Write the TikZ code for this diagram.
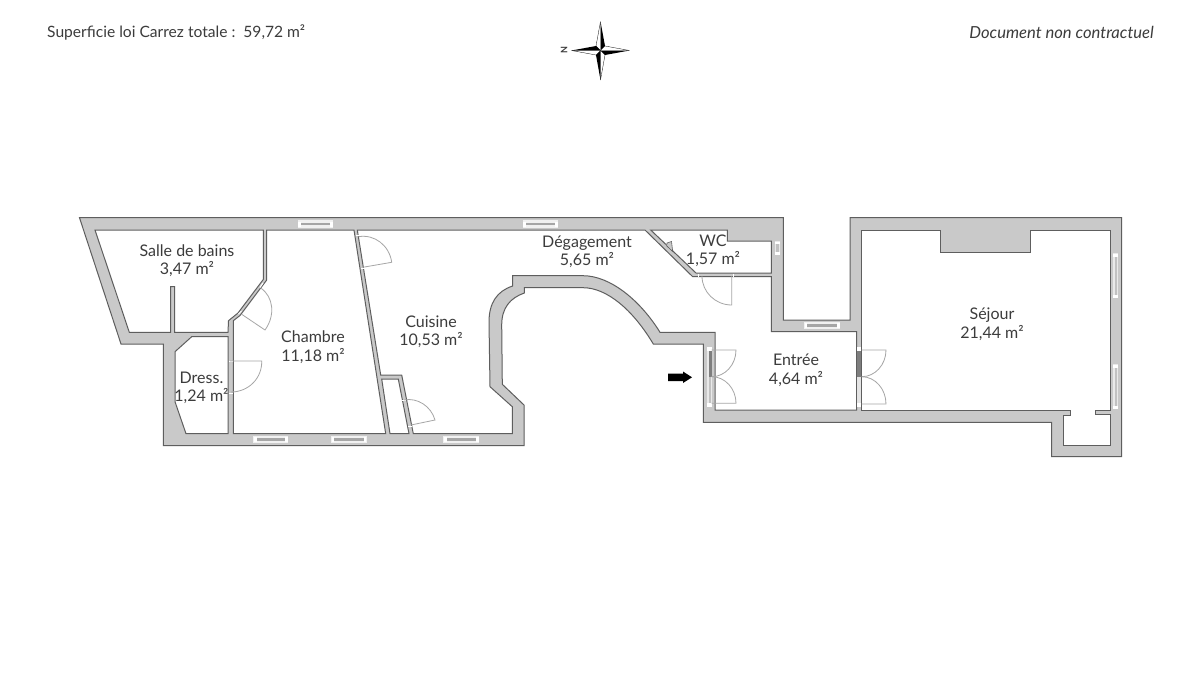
\documentclass[tikz,border=0pt]{standalone}
\usepackage{fontspec}
\setmainfont{Lato}
\definecolor{wallfill}{HTML}{C9C9C9}
\definecolor{wallline}{HTML}{5E5E5E}
\definecolor{doorline}{HTML}{A6A6A6}
\definecolor{inktext}{HTML}{3C3C3C}
\newcommand{\doorleaf}[6]{%
  \pgfmathsetmacro{\cax}{#3+0.5523*(#5-#1)}%
  \pgfmathsetmacro{\cay}{#4+0.5523*(#6-#2)}%
  \pgfmathsetmacro{\cbx}{#5+0.5523*(#3-#1)}%
  \pgfmathsetmacro{\cby}{#6+0.5523*(#4-#2)}%
  \draw[doorstyle] (#1,#2) -- (#3,#4) .. controls (\cax,\cay) and (\cbx,\cby) .. (#5,#6);}
\newcommand{\winh}[3]{% x1 x2 ycentre
  \fill[white!75!wallfill] (#1,#3-3.8) rectangle (#2,#3+3.8);
  \fill[doorline] (#1+2,#3-1.3) rectangle (#2-2,#3+1.3);
  \fill[tick] (#1+0.5,#3-2.5) rectangle (#1+3.2,#3+2.5);
  \fill[tick] (#2-3.2,#3-2.5) rectangle (#2-0.5,#3+2.5);}
\newcommand{\winv}[3]{% y1 y2 xcentre
  \fill[white!60!wallfill] (#3-2.6,#1) rectangle (#3+2.6,#2);
  \fill[doorline!70!white] (#3-1.2,#1+2) rectangle (#3+1.2,#2-2);
  \fill[tick] (#3-2.5,#1+0.5) rectangle (#3+2.5,#1+3.2);
  \fill[tick] (#3-2.5,#2-3.2) rectangle (#3+2.5,#2-0.5);}
\tikzset{
  x=1pt,y=-1pt,
  wallshape/.style={fill=wallfill,draw=wallline,line width=1pt,line join=miter},
  roomshape/.style={fill=white,draw=wallline,line width=1pt,line join=miter},
  doorstyle/.style={draw=doorline,line width=0.8pt},
  roomlabel/.style={font=\fontsize{16}{18.5}\selectfont,align=center,text=inktext,inner sep=0pt},
  headtext/.style={font=\fontsize{15.6}{17}\selectfont,text=inktext,inner sep=0pt},
  tick/.style={fill=white},
}
\begin{document}
\begin{tikzpicture}
\useasboundingbox (0,0) rectangle (1200,675);
\fill[white] (0,0) rectangle (1200,675);

% header
\node[headtext,anchor=base west] (total) at (47,37) {Superficie loi Carrez totale :\ \ 59,72 m²};
\node[headtext,anchor=base east,font=\fontsize{16.6}{18}\selectfont] (contract) at (1154,38) {\itshape Document non contractuel};

% compass
\fill[black] (600.5,21.5) -- (605,46) -- (600.5,50.5) -- cycle;
\draw[black,line width=0.3pt,fill=white] (600.5,21.5) -- (596,46) -- (600.5,50.5) -- cycle;
\fill[black] (571.5,50.5) -- (596,46) -- (600.5,50.5) -- cycle;
\draw[black,line width=0.3pt,fill=white] (571.5,50.5) -- (596,55) -- (600.5,50.5) -- cycle;
\fill[black] (600.5,80) -- (596,55) -- (600.5,50.5) -- cycle;
\draw[black,line width=0.3pt,fill=white] (600.5,80) -- (605,55) -- (600.5,50.5) -- cycle;
\fill[black] (629.5,50.5) -- (605,55) -- (600.5,50.5) -- cycle;
\draw[black,line width=0.3pt,fill=white] (629.5,50.5) -- (605,46) -- (600.5,50.5) -- cycle;
\node[font=\fontsize{9}{10}\selectfont\bfseries,text=inktext,rotate=90,inner sep=0pt] (north) at (564,50.5) {N};

% walls (single outline)
\path[wallshape] (79.5,217.7) -- (783.3,217.7) -- (783.3,320) -- (850,320) -- (850,217.7)
  -- (1121.7,217.7) -- (1121.7,456.7) -- (1051.7,456.7) -- (1051.7,422.3) -- (703.3,422.3)
  -- (703.3,344) -- (653.3,344) .. controls (633,310) and (607,287.7) .. (583,287.7)
  -- (524.3,287.7) -- (524.3,293) .. controls (510,298) and (501.7,308) .. (501.7,325)
  -- (502.3,384.3) -- (524,405) -- (524,445.7) -- (163.3,445.7) -- (163.3,344) -- (121,344) -- cycle;

% salle de bains
\path[roomshape] (95,230) -- (263.3,230) -- (263.3,279.5) -- (238,313) -- (228.5,320.7)
  -- (228,332.3) -- (174.6,332.3) -- (174.6,286.7) -- (170.7,286.7) -- (170.7,332.3) -- (129.3,332.3) -- cycle;
% dressing
\path[roomshape] (191.7,336.7) -- (228,336.7) -- (228,433.7) -- (186,433.7) -- (175,401.7) -- (175,351.7) -- cycle;
% chambre
\path[roomshape] (266.7,230) -- (354,230) -- (385.7,433.7) -- (233.3,433.7) -- (233.3,320.7)
  -- (240,315.5) -- (266.7,280) -- cycle;
% placard
\path[roomshape] (381.7,379) -- (398.3,379) -- (409,433.7) -- (390,433.7) -- cycle;
% cuisine + degagement + entree
\path[roomshape] (357.3,230) -- (645,230) -- (692.7,276.7) -- (771.3,276.7) -- (771.3,331.7)
  -- (856.7,331.7) -- (856.7,410) -- (715,410) -- (715,332.3) -- (660,332.3)
  .. controls (640,300) and (610,275.7) .. (583,275.7) -- (512.7,275.7) -- (512.7,286)
  .. controls (497,291) and (489,303) .. (489,322) -- (490,386.7) -- (512.3,406.7) -- (512.3,433.7)
  -- (413.3,433.7) -- (401.7,375) -- (380.7,375) -- cycle;
% WC
\path[roomshape] (650.7,230) -- (727.3,230) -- (727.3,241) -- (771.3,241) -- (771.3,273)
  -- (696,273) -- cycle;
\path[wallshape,line width=0.6pt] (666.8,246) -- (667,243) -- (671.5,241.5) -- (672.7,251.5) -- cycle;
% sejour
\path[roomshape] (861.7,230) -- (940.7,230) -- (940.7,252.7) -- (1030,252.7) -- (1030,230) -- (1110,230)
  -- (1110,410.7) -- (1095,410.7) -- (1095,414.7) -- (1110,414.7) -- (1110,445) -- (1063.3,445)
  -- (1063.3,415) -- (1070,415) -- (1070,410.7) -- (861.7,410.7) -- cycle;

% windows
\winh{297.7}{333.3}{224}
\winh{522.7}{558.3}{224}
\winh{253.3}{288.3}{439.6}
\winh{331}{366.7}{439.6}
\winh{443.3}{479.3}{439.6}
\winh{804}{840}{325.4}
\winv{241}{255}{777.5}
\winv{253.3}{298.3}{1115.8}
\winv{364.3}{409}{1115.8}

% entrance door frame
\fill[white!60!wallfill] (706.5,347.7) rectangle (712,406.7);
\fill[wallline!80!white] (709,348) rectangle (711.7,377);
\fill[doorline!70!white] (708.5,377) rectangle (710.5,404);
\fill[tick] (707,347) rectangle (711.5,351);
\fill[tick] (707,403) rectangle (711.5,407);
% sejour door frame
\fill[wallline!70!wallfill] (857.4,349) rectangle (861,377);
\fill[white!50!wallfill] (857.4,377) rectangle (861,404);
\fill[tick] (857.4,347) rectangle (861,351);
\fill[tick] (857.4,403) rectangle (861,407);
% partition door ticks
\draw[white,line width=1pt] (260,287.5) -- (263,283);
\draw[white,line width=1pt] (238.5,314) -- (241.5,311);
\draw[white,line width=1pt] (229,361) -- (233,361);
\draw[white,line width=1pt] (229,393) -- (233,393);
\draw[white,line width=1pt] (355.5,235) -- (359.5,235);
\draw[white,line width=1pt] (360.5,268) -- (364.5,268);
\draw[white,line width=1pt] (402,400) -- (406,400);
\draw[white,line width=1pt] (408,426) -- (412,426);
\draw[white,line width=1pt] (698,273.5) -- (698,276.5);
\draw[white,line width=1pt] (733,273.5) -- (733,276.5);

% doors
\doorleaf{241.7}{314.3}{265}{330}{260.7}{288}
\doorleaf{230}{361}{261.7}{361}{231}{392}
\doorleaf{362.7}{267.3}{391.7}{262.3}{358.5}{236.7}
\doorleaf{411}{425}{435}{420}{404}{400}
\doorleaf{731.7}{276}{731.7}{305}{702}{276}
\doorleaf{711.7}{350}{736}{350}{711.7}{376.7}
\doorleaf{711.7}{403.3}{736}{403.3}{711.7}{376.7}
\doorleaf{861.7}{350}{886}{350}{861.7}{376.7}
\doorleaf{861.7}{404}{886}{404}{861.7}{376.7}

% entrance arrow
\fill[black] (668,373.5) -- (683,373.5) -- (683,371.5) -- (692,377.3) -- (683,383) -- (683,381) -- (668,381) -- cycle;

% labels
\node[roomlabel] (sdb) at (187,260.5) {Salle de bains\\3,47 m²};
\node[roomlabel] (chambre) at (313,347) {Chambre\\11,18 m²};
\node[roomlabel] (dress) at (201.5,388) {Dress.\\1,24 m²};
\node[roomlabel] (cuisine) at (431,331.5) {Cuisine\\10,53 m²};
\node[roomlabel] (degagement) at (587,252) {Dégagement\\5,65 m²};
\node[roomlabel] (wc) at (713,251) {WC\\1,57 m²};
\node[roomlabel] (entree) at (796,370.5) {Entrée\\4,64 m²};
\node[roomlabel] (sejour) at (992,324) {Séjour\\21,44 m²};
\end{tikzpicture}
\end{document}
